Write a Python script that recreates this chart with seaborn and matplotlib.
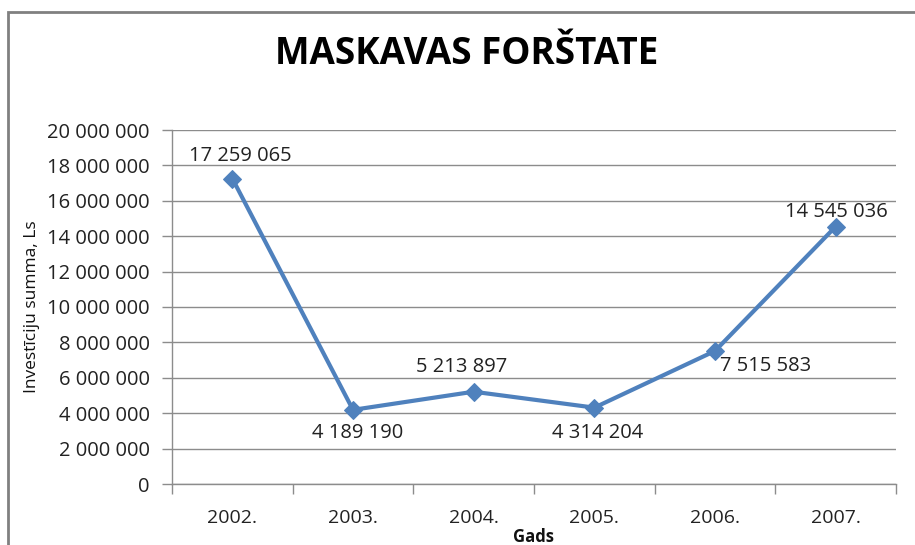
import matplotlib
matplotlib.use("Agg")
import matplotlib.pyplot as plt
import seaborn as sns
import pandas as pd
from matplotlib.patches import Rectangle
from matplotlib.ticker import FuncFormatter, FixedLocator

years = ["2002.", "2003.", "2004.", "2005.", "2006.", "2007."]
values = [17259065, 4189190, 5213897, 4314204, 7515583, 14545036]
# label offsets in pixels (dx, dy) relative to each point
label_dx = [8, 5, -12, 3, 51, 1]
label_dy = [23, -23, 25, -25, -15, 15]

sns.set_theme(style="white")
plt.rcParams['font.family'] = ['Open Sans', 'DejaVu Sans']

fig = plt.figure(figsize=(9.15, 5.45), dpi=100)
ax = fig.add_axes([172/915, 1-484/545, (896-172)/915, (484-130)/545])

df = pd.DataFrame({"x": range(len(years)), "v": values})
line_color = "#4F81BD"
sns.lineplot(data=df, x="x", y="v", ax=ax, color=line_color, linewidth=3.0,
             marker="D", markersize=9, markeredgecolor=line_color)

ax.set_xlim(-0.5, len(years) - 0.5)
ax.set_ylim(0, 20000000)
ax.yaxis.set_major_locator(FixedLocator(list(range(0, 20000001, 2000000))))
ax.yaxis.set_major_formatter(FuncFormatter(lambda v, p: f"{int(v):,}".replace(",", " ")))
ax.grid(axis="y", color="#8c8c8c", linewidth=1.0)
ax.grid(axis="x", visible=False)
ax.set_axisbelow(True)

ax.xaxis.set_major_locator(FixedLocator([i - 0.5 for i in range(len(years) + 1)]))
ax.xaxis.set_major_formatter(FuncFormatter(lambda v, p: ""))
ax.xaxis.set_minor_locator(FixedLocator(list(range(len(years)))))
ax.set_xticklabels(years, minor=True)
ax.tick_params(axis="x", which="major", direction="out", length=7, width=1, color="#8c8c8c", bottom=True)
ax.tick_params(axis="x", which="minor", length=0, pad=18, labelsize=14, labelcolor="#222222")
ax.tick_params(axis="y", direction="out", length=7, width=1, color="#8c8c8c", left=True, pad=9,
               labelsize=14.5, labelcolor="#222222")

for s in ["top", "right"]:
    ax.spines[s].set_visible(False)
for s in ["left", "bottom"]:
    ax.spines[s].set_color("#8c8c8c")
    ax.spines[s].set_linewidth(1.0)

ax.set_xlabel("Gads", fontsize=12, fontweight="bold", labelpad=1, color="#111111")
ax.set_ylabel("Investīciju summa, Ls", fontsize=12.5, labelpad=5, color="#111111")

for i, v in enumerate(values):
    ax.annotate(f"{v:,}".replace(",", " "), (i, v), xytext=(label_dx[i], label_dy[i]),
                textcoords="offset pixels", ha="center", va="center",
                fontsize=14.5, color="#222222")

fig.text(467/915, 1-54/545, "MASKAVAS FORŠTATE", ha="center", va="center",
         fontsize=26.5, fontweight="bold", color="#000000")

fig.patches.append(Rectangle((8/915, -0.1), 1.2, 1-12/545+0.1, transform=fig.transFigure,
                             fill=False, edgecolor="#808080", linewidth=2))

fig.savefig("out.png", dpi=100)
